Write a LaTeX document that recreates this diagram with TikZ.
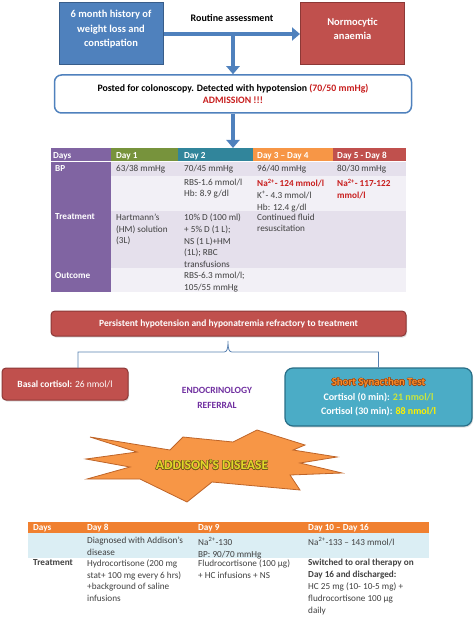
\documentclass[tikz,border=0pt]{standalone}
\usepackage{fontspec}
\setmainfont{Carlito}
\usepackage{xcolor}
\usepackage{contour}
\usepackage{tikz}
\usetikzlibrary{arrows.meta,calc,shadows}
\definecolor{ink}{RGB}{64,64,64}
\definecolor{boxblue}{RGB}{79,129,189}
\definecolor{boxblueedge}{RGB}{56,93,138}
\definecolor{boxred}{RGB}{192,80,77}
\definecolor{boxrededge}{RGB}{140,56,54}
\definecolor{alert}{RGB}{200,30,30}
\definecolor{daypurple}{RGB}{128,100,162}
\definecolor{daygreen}{RGB}{119,147,60}
\definecolor{dayteal}{RGB}{49,133,155}
\definecolor{dayorange}{RGB}{247,150,70}
\definecolor{dayred}{RGB}{192,80,77}
\definecolor{rowdark}{RGB}{229,224,236}
\definecolor{rowlight}{RGB}{242,240,246}
\definecolor{synfill}{RGB}{75,172,198}
\definecolor{synedge}{RGB}{40,110,135}
\definecolor{synorange}{RGB}{250,140,40}
\definecolor{synoutline}{RGB}{150,70,20}
\definecolor{valgreen}{RGB}{200,230,60}
\definecolor{valyellow}{RGB}{255,240,0}
\definecolor{referral}{RGB}{112,48,160}
\definecolor{burstfill}{RGB}{247,150,70}
\definecolor{burstedge}{RGB}{190,100,40}
\definecolor{addtext}{RGB}{225,215,40}
\definecolor{addoutline}{RGB}{120,90,30}
\definecolor{hdrorange}{RGB}{240,128,48}
\definecolor{rowblue}{RGB}{219,238,244}
\contourlength{0.5pt}
% first table columns
\def\TaA{51}
\def\TaB{111}
\def\TaC{178}
\def\TaD{253}
\def\TaE{333}
\def\TaR{406}
% second table columns
\def\TbA{28}
\def\TbB{82}
\def\TbC{195}
\def\TbD{305}
\def\TbR{429}
\tikzset{
  histbox/.style={
    draw=#1, line width=1pt, fill=boxblue, text=white,
    minimum width=104, minimum height=62,
    align=center, font=\fontsize{10.5}{14.5}\selectfont\bfseries, inner sep=0pt,
  },
  histbox/.default=boxblueedge,
  admitbox/.style={
    draw=boxblue, line width=1.5pt, fill=white, rounded corners=7pt,
    minimum width=357, minimum height=38,
    align=center, font=\fontsize{9.8}{12}\selectfont\bfseries, inner sep=0pt,
  },
  redbox/.style={
    draw=boxrededge, line width=1pt, fill=boxred, rounded corners=4pt, text=white,
    align=center, font=\fontsize{9.5}{11.5}\selectfont, inner sep=0pt,
    drop shadow={opacity=.25, shadow xshift=1pt, shadow yshift=-1.5pt},
  },
  synbox/.style={
    draw=synedge, line width=1.2pt, fill=synfill, rounded corners=8pt, text=white,
    minimum width=187, minimum height=58,
    align=center, font=\fontsize{10}{14.5}\selectfont\bfseries, inner sep=0pt,
    drop shadow={opacity=.25, shadow xshift=1pt, shadow yshift=-1.5pt},
  },
  cell/.style={
    anchor=north west, inner sep=0pt, align=left, text=ink,
    font=\fontsize{9.2}{11.8}\selectfont,
  },
  hcell/.style={cell, text=white, font=\fontsize{9.2}{11.8}\selectfont\bfseries},
  fatarr/.style={-{Triangle[length=8pt,width=13pt]}, line width=4pt, draw=boxblue},
  bracelink/.style={draw=boxblue!80!gray, line width=.8pt},
}

\begin{document}
\begin{tikzpicture}[x=1pt,y=-1pt]
  \useasboundingbox (0,0) rectangle (474,620);

  % history and first findings
  \node[histbox] (hist) at (111,34) {6 month history of\\weight loss and\\constipation\\[-4pt]\mbox{}};
  \node[histbox=boxrededge, fill=boxred] (anaem) at (352.5,34) {Normocytic\\anaemia\\[-4pt]\mbox{}};
  \node[font=\fontsize{10}{12}\selectfont\bfseries] (routine) at (232,18) {Routine assessment};
  \node[admitbox] (posted) at (233,94)
    {Posted for colonoscopy. Detected with hypotension \textcolor{alert}{(70/50 mmHg)}\\
     \textcolor{alert}{ADMISSION !!!}};
  \coordinate (split) at (posted.north |- hist.east);
  \coordinate (t1top) at (233,148);
  \draw[fatarr] (hist.east) -- (anaem.west);
  \draw[fatarr] (split) -- (posted.north);
  \draw[fatarr] (posted.south) -- (t1top);

  % first table (days 1-8)
  \fill[daypurple] (\TaA,148) rectangle (\TaB,292);
  \fill[daygreen] (\TaB,148) rectangle (\TaC,161);
  \fill[dayteal] (\TaC,148) rectangle (\TaD,161);
  \fill[dayorange] (\TaD,148) rectangle (\TaE,161);
  \fill[dayred] (\TaE,148) rectangle (\TaR,161);
  \fill[rowdark] (\TaB,161) rectangle (\TaR,176);
  \fill[rowlight] (\TaB,176) rectangle (\TaR,211);
  \fill[rowdark] (\TaB,211) rectangle (\TaR,268);
  \fill[rowlight] (\TaB,268) rectangle (\TaR,292);
  \draw[white, line width=.6pt] (\TaA,161) -- (\TaR,161);

  \node[hcell] (hd0) at (53,152) {Days};
  \node[hcell] (hd1) at (116,152) {Day 1};
  \node[hcell] (hd2) at (184,152) {Day 2};
  \node[hcell] (hd3) at (257,152) {Day 3 -- Day 4};
  \node[hcell] (hd4) at (337,152) {Day 5 - Day 8};

  \node[hcell] (bp0) at (55,165.3) {BP};
  \node[cell] (bp1) at (116,165.3) {63/38 mmHg};
  \node[cell] (bp2) at (184,165.3) {70/45 mmHg};
  \node[cell] (bp3) at (257,165.3) {96/40 mmHg};
  \node[cell] (bp4) at (337,165.3) {80/30 mmHg};

  \node[cell] (lab2) at (184,178.6) {RBS-1.6 mmol/l\\Hb: 8.9 g/dl};
  \node[cell] (lab3) at (257,178.6)
    {\textcolor{alert}{\bfseries Na\textsuperscript{2+}- 124 mmol/l}\\K\textsuperscript{+}- 4.3 mmol/l\\Hb: 12.4 g/dl};
  \node[cell, text=alert, font=\fontsize{9.2}{11.8}\selectfont\bfseries] (lab4) at (337,178.6)
    {Na\textsuperscript{2+}- 117-122\\mmol/l};

  \node[hcell] (tr0) at (55,213.6) {Treatment};
  \node[cell] (tr1) at (116,213.6) {Hartmann's\\(HM) solution\\(3L)};
  \node[cell] (tr2) at (184,213.6) {10\% D (100 ml)\\+ 5\% D (1 L);\\NS (1 L)+HM\\(1L); RBC\\transfusions};
  \node[cell] (tr3) at (257,213.6) {Continued fluid\\resuscitation};

  \node[hcell] (out0) at (55,272) {Outcome};
  \node[cell] (out2) at (184,272) {RBS-6.3 mmol/l;\\105/55 mmHg};

  % persistent state and work-up
  \node[redbox, font=\fontsize{9.5}{11.5}\selectfont\bfseries, minimum width=355, minimum height=25]
    (persist) at (228.5,323.5) {Persistent hypotension and hyponatremia refractory to treatment};
  \node[redbox, minimum width=126, minimum height=32] (basal) at (65,384)
    {\textbf{Basal cortisol:} 26 nmol/l};
  \node[synbox] (syn) at (378.5,397)
    {{\fontsize{10.8}{14.5}\selectfont\contour{synoutline}{\textcolor{synorange}{Short Synacthen Test}}}\\
     Cortisol (0 min): \textcolor{valgreen}{21 nmol/l}\\
     Cortisol (30 min): \textcolor{valyellow}{88 nmol/l}};
  \node[align=center, text=referral, font=\fontsize{9.5}{15}\selectfont\bfseries] (endo) at (217,398)
    {ENDOCRINOLOGY\\REFERRAL};
  \coordinate (legL) at (78,368);
  \coordinate (peak) at (228,341);
  \draw[bracelink] (legL) |- (224,352) .. controls (227,352) and (228,349) .. (peak)
    .. controls (228,349) and (229,352) .. (232,352) -| (syn.north);

  % diagnosis
  \draw[fill=burstfill, draw=burstedge, line width=.8pt, line join=miter]
    (90,437) -- (137,452) -- (86,459) -- (130,467) -- (87,479) -- (140,479) -- (187,502)
    -- (212,482) -- (300,490) -- (290,475) -- (342,473) -- (300,463) -- (337,457)
    -- (293,450) -- (305,445) -- (257,430) -- (233,442) -- (183,437) -- (170,450) -- cycle;
  \node[font=\fontsize{13.5}{15}\selectfont\bfseries] (addison) at (212,465)
    {\contour{addoutline}{\textcolor{addtext}{ADDISON'S DISEASE}}};

  % second table (days 8-16)
  \fill[hdrorange] (\TbA,522) rectangle (\TbR,533);
  \fill[rowblue] (\TbA,533) rectangle (\TbR,558);

  \node[hcell] (hb0) at (33,524.2) {Days};
  \node[hcell] (hb1) at (87,524.2) {Day 8};
  \node[hcell] (hb2) at (198,524.2) {Day 9};
  \node[hcell] (hb3) at (308,524.2) {Day 10 -- Day 16};

  \node[cell] (dx1) at (87,537.3) {Diagnosed with Addison's\\disease};
  \node[cell] (dx2) at (198,537.3) {Na\textsuperscript{2+}-130\\BP: 90/70 mmHg};
  \node[cell] (dx3) at (308,537.3) {Na\textsuperscript{2+}-133 -- 143 mmol/l};

  \node[cell, font=\fontsize{9.2}{11.8}\selectfont\bfseries] (rx0) at (33,559.3) {Treatment};
  \node[cell] (rx1) at (87,559.3)
    {Hydrocortisone (200 mg\\stat+ 100 mg every 6 hrs)\\+background of saline\\infusions};
  \node[cell] (rx2) at (198,559.3) {Fludrocortisone (100 µg)\\+ HC infusions + NS};
  \node[cell] (rx3) at (308,559.3)
    {\textbf{Switched to oral therapy on}\\\textbf{Day 16 and discharged:}\\HC 25 mg (10- 10-5 mg) +\\fludrocortisone 100 µg\\daily};
\end{tikzpicture}
\end{document}
